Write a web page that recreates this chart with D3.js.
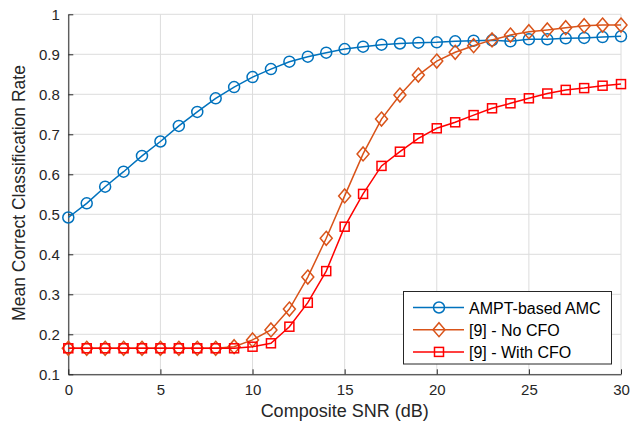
<!DOCTYPE html>
<html><head><meta charset="utf-8">
<script src="https://cdn.jsdelivr.net/npm/d3@7"></script>
<style>body{margin:0;background:#fff}svg{display:block}</style>
</head><body>
<script>
const snr = d3.range(0, 31);
const amptAMC = [0.492,0.5275,0.569,0.6065,0.646,0.682,0.721,0.756,0.79,0.818,0.843,0.863,0.8815,0.894,0.904,0.913,0.919,0.924,0.927,0.929,0.93,0.9325,0.934,0.935,0.9325,0.9375,0.9375,0.94,0.941,0.943,0.945];
const noCFO = [0.165,0.165,0.165,0.165,0.165,0.165,0.165,0.165,0.165,0.169,0.186,0.211,0.263,0.343,0.44,0.546,0.651,0.738,0.798,0.848,0.883,0.905,0.9215,0.936,0.948,0.9565,0.961,0.9665,0.9715,0.973,0.973];
const withCFO = [0.165,0.165,0.165,0.165,0.165,0.165,0.165,0.165,0.165,0.165,0.169,0.1775,0.219,0.279,0.358,0.469,0.551,0.621,0.6565,0.69,0.715,0.73,0.748,0.765,0.7775,0.79,0.802,0.811,0.8155,0.8215,0.8255];
const xTicks = [0,5,10,15,20,25,30];
const yTicks = [0.1,0.2,0.3,0.4,0.5,0.6,0.7,0.8,0.9,1];
const seriesNames = ["AMPT-based AMC","[9] - No CFO","[9] - With CFO"];
const colors = ["#0072BD","#D95319","#FF0000"];
const markers = ["circle","diamond","square"];

const W=639,H=424, m={l:68.3,r:18,t:14.3,b:49.7};
const svg=d3.select("body").append("svg").attr("width",W).attr("height",H).style("font-family","'Liberation Sans',Arial,sans-serif");
const x=d3.scaleLinear().domain([0,30]).range([m.l,W-m.r]);
const y=d3.scaleLinear().domain([0.1,1]).range([H-m.b,m.t]);

// grid
const g=svg.append("g");
g.selectAll("line.vx").data(xTicks).join("line").attr("x1",d=>x(d)).attr("x2",d=>x(d)).attr("y1",y(0.1)).attr("y2",y(1)).attr("stroke","#dcdcdc").attr("stroke-width",1);
g.selectAll("line.hy").data(yTicks).join("line").attr("y1",d=>y(d)).attr("y2",d=>y(d)).attr("x1",x(0)).attr("x2",x(30)).attr("stroke","#dcdcdc").attr("stroke-width",1);

// axes
const xa=svg.append("g").attr("transform",`translate(0,${y(0.1)})`).call(d3.axisBottom(x).tickValues(xTicks).tickSizeInner(-5).tickSizeOuter(0).tickPadding(10));
const ya=svg.append("g").attr("transform",`translate(${x(0)},0)`).call(d3.axisLeft(y).tickValues(yTicks).tickFormat(d=>d===1?"1":d3.format(".1f")(d)).tickSizeInner(-5).tickSizeOuter(0).tickPadding(8.5));
[xa,ya].forEach(a=>{a.select(".domain").attr("stroke","#262626");a.selectAll(".tick line").attr("stroke","#262626");a.selectAll("text").attr("fill","#262626").style("font-size","15px").style("font-family","'Liberation Sans',Arial,sans-serif");});

svg.append("text").attr("x",(x(0)+x(30))/2).attr("y",417).attr("text-anchor","middle").attr("fill","#262626").style("font-size","18px").text("Composite SNR (dB)");
svg.append("text").attr("transform",`translate(25,193) rotate(-90)`).attr("text-anchor","middle").attr("fill","#262626").style("font-size","17.5px").text("Mean Correct Classification Rate");

function drawMarker(sel,type,color){
  if(type==="circle") sel.append("circle").attr("r",5.5);
  else if(type==="diamond") sel.append("path").attr("d","M0,-7L6,0L0,7L-6,0Z");
  else sel.append("rect").attr("x",-4.5).attr("y",-4.5).attr("width",9).attr("height",9);
  sel.selectAll("*").attr("fill","none").attr("stroke",color).attr("stroke-width",1.5);
}
const data=[amptAMC,noCFO,withCFO];
const line=d3.line().x((d,i)=>x(snr[i])).y(d=>y(d));
data.forEach((s,k)=>{
  svg.append("path").attr("d",line(s)).attr("fill","none").attr("stroke",colors[k]).attr("stroke-width",1.5);
  s.forEach((v,i)=>{const mg=svg.append("g").attr("transform",`translate(${x(snr[i])},${y(v)})`);drawMarker(mg,markers[k],colors[k]);});
});

// legend
const L=svg.append("g");
L.append("rect").attr("x",403.5).attr("y",291.5).attr("width",208).attr("height",72.5).attr("fill","#fff").attr("stroke","#262626").attr("stroke-width",1);
seriesNames.forEach((n,k)=>{
  const yy=307.5+k*22.2;
  L.append("line").attr("x1",413).attr("x2",464).attr("y1",yy).attr("y2",yy).attr("stroke",colors[k]).attr("stroke-width",1.5);
  const mg=L.append("g").attr("transform",`translate(439,${yy})`);drawMarker(mg,markers[k],colors[k]);
  L.append("text").attr("x",469).attr("y",yy+6).attr("fill","#000").style("font-size","16px").text(n);
});
</script>
</body></html>
